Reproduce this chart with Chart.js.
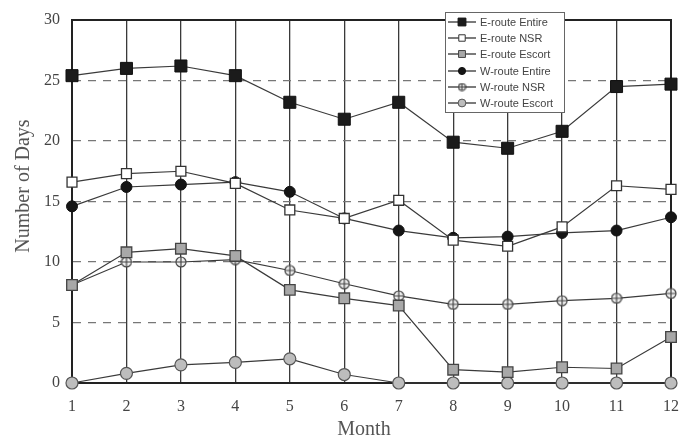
<!DOCTYPE html>
<html>
<head>
<meta charset="utf-8">
<script src="https://cdn.jsdelivr.net/npm/chart.js@4.4.0/dist/chart.umd.min.js"></script>
<style>
  html, body { margin: 0; padding: 0; background: #fff; }
</style>
</head>
<body>
<canvas id="monthChart" width="684" height="441"></canvas>
<script>
// 데이터
const months = [1, 2, 3, 4, 5, 6, 7, 8, 9, 10, 11, 12];
const eRouteEntire = [25.4, 26.0, 26.2, 25.4, 23.2, 21.8, 23.2, 19.9, 19.4, 20.8, 24.5, 24.7];
const eRouteNSR = [16.6, 17.3, 17.5, 16.5, 14.3, 13.6, 15.1, 11.8, 11.3, 12.9, 16.3, 16.0];
const eRouteEscort = [8.1, 10.8, 11.1, 10.5, 7.7, 7.0, 6.4, 1.1, 0.9, 1.3, 1.2, 3.8];
const wRouteEntire = [14.6, 16.2, 16.4, 16.6, 15.8, 13.6, 12.6, 12.0, 12.1, 12.4, 12.6, 13.7];
const wRouteNSR = [8.1, 10.0, 10.0, 10.2, 9.3, 8.2, 7.2, 6.5, 6.5, 6.8, 7.0, 7.4];
const wRouteEscort = [0, 0.8, 1.5, 1.7, 2.0, 0.7, 0, 0, 0, 0, 0, 0];
const seriesNames = ['E-route Entire', 'E-route NSR', 'E-route Escort', 'W-route Entire', 'W-route NSR', 'W-route Escort'];
const yTicks = [0, 5, 10, 15, 20, 25, 30];

// 십자 원 마커
function crossCircle(size) {
    const c = document.createElement('canvas');
    c.width = size; c.height = size;
    const g = c.getContext('2d');
    const r = size / 2 - 1;
    g.beginPath();
    g.arc(size / 2, size / 2, r, 0, Math.PI * 2);
    g.fillStyle = '#eee';
    g.fill();
    g.lineWidth = 1.2;
    g.strokeStyle = '#444';
    g.stroke();
    g.beginPath();
    g.moveTo(size / 2, 1); g.lineTo(size / 2, size - 1);
    g.moveTo(1, size / 2); g.lineTo(size - 1, size / 2);
    g.stroke();
    return c;
}
const crossBig = crossCircle(12);
const crossSmall = crossCircle(9);

function toPoints(values) {
    return values.map((v, i) => ({ x: months[i], y: v }));
}

const styles = [
    { pointStyle: 'rect', pointRadius: 8.5, pointBackgroundColor: '#1b1b1b', pointBorderColor: '#111', pointBorderWidth: 1 },
    { pointStyle: 'rect', pointRadius: 7, pointBackgroundColor: '#fff', pointBorderColor: '#333', pointBorderWidth: 1.3 },
    { pointStyle: 'rect', pointRadius: 7.5, pointBackgroundColor: '#a8a8a8', pointBorderColor: '#444', pointBorderWidth: 1.3 },
    { pointStyle: 'circle', pointRadius: 5.5, pointBackgroundColor: '#151515', pointBorderColor: '#111', pointBorderWidth: 1 },
    { pointStyle: crossBig, pointRadius: 6, pointBackgroundColor: '#eee', pointBorderColor: '#444', pointBorderWidth: 1.2 },
    { pointStyle: 'circle', pointRadius: 6, pointBackgroundColor: '#bdbdbd', pointBorderColor: '#555', pointBorderWidth: 1.2 }
];
const seriesData = [eRouteEntire, eRouteNSR, eRouteEscort, wRouteEntire, wRouteNSR, wRouteEscort];

// 프레임, 축 제목, 범례
const decorPlugin = {
    id: 'decor',
    beforeDatasetsDraw(chart) {
        const { ctx, chartArea: a } = chart;
        ctx.save();
        ctx.strokeStyle = '#222';
        ctx.lineWidth = 2;
        ctx.strokeRect(a.left, a.top, a.right - a.left, a.bottom - a.top);
        ctx.restore();
    },
    afterDraw(chart) {
        const { ctx } = chart;
        ctx.save();
        ctx.fillStyle = '#555';
        ctx.font = '20px "Liberation Serif"';
        ctx.textAlign = 'center';
        ctx.textBaseline = 'middle';
        ctx.fillText('Month', 364, 430);
        ctx.translate(24, 186);
        ctx.rotate(-Math.PI / 2);
        ctx.fillText('Number of Days', 0, 0);
        ctx.restore();

        // 범례
        const bx = 445, by = 12, bw = 119, bh = 100;
        ctx.save();
        ctx.fillStyle = '#fff';
        ctx.fillRect(bx, by, bw, bh);
        ctx.strokeStyle = '#666';
        ctx.lineWidth = 1;
        ctx.strokeRect(bx + 0.5, by + 0.5, bw, bh);
        const rows = [22, 38, 54, 71, 87, 103];
        chart.data.datasets.forEach((ds, i) => {
            const y = rows[i];
            ctx.strokeStyle = '#333';
            ctx.lineWidth = 1.3;
            ctx.beginPath();
            ctx.moveTo(bx + 3, y); ctx.lineTo(bx + 31, y);
            ctx.stroke();
            const st = styles[i];
            if (i === 4) {
                ctx.drawImage(crossSmall, bx + 17 - 4.5, y - 4.5);
            } else {
                ctx.fillStyle = st.pointBackgroundColor;
                ctx.strokeStyle = st.pointBorderColor;
                ctx.lineWidth = 1;
                Chart.helpers.drawPoint(ctx, {
                    pointStyle: st.pointStyle,
                    radius: st.pointRadius * 0.65,
                    borderWidth: 1
                }, bx + 17, y);
            }
            ctx.fillStyle = '#444';
            ctx.font = '11px "Liberation Sans"';
            ctx.textAlign = 'left';
            ctx.textBaseline = 'middle';
            ctx.fillText(ds.label, bx + 35, y + 0.5);
        });
        ctx.restore();
    }
};

const chart = new Chart(document.getElementById('monthChart').getContext('2d'), {
    type: 'line',
    data: {
        datasets: seriesNames.map((name, i) => Object.assign({
            label: name,
            data: toPoints(seriesData[i]),
            borderColor: '#3a3a3a',
            borderWidth: 1.2,
            fill: false,
            tension: 0,
            clip: false
        }, styles[i]))
    },
    options: {
        responsive: false,
        animation: false,
        devicePixelRatio: 1,
        layout: { padding: { top: 20, right: 13, left: 0, bottom: 0 } },
        plugins: {
            legend: { display: false },
            tooltip: { enabled: false }
        },
        scales: {
            x: {
                type: 'linear',
                min: 1,
                max: 12,
                afterFit: s => { s.height = 58; s.paddingLeft = 0; s.paddingRight = 0; },
                ticks: {
                    stepSize: 1,
                    padding: 14,
                    color: '#444',
                    font: { family: 'Liberation Serif', size: 16 }
                },
                grid: { color: '#3a3a3a', lineWidth: 1.3, drawTicks: false },
                border: { color: '#222', width: 2 }
            },
            y: {
                min: 0,
                max: 30,
                afterFit: s => { s.width = 72; s.paddingTop = 0; s.paddingBottom = 0; },
                afterBuildTicks: s => { s.ticks = yTicks.map(v => ({ value: v })); },
                ticks: {
                    padding: 12,
                    color: '#444',
                    font: { family: 'Liberation Serif', size: 16 }
                },
                grid: {
                    color: c => (c.tick && (c.tick.value === 0 || c.tick.value === 30)) ? 'rgba(0,0,0,0)' : '#777',
                    lineWidth: 1.2,
                    drawTicks: false
                },
                border: { color: '#222', width: 2, dash: [8, 7] }
            }
        }
    },
    plugins: [decorPlugin]
});
</script>
</body>
</html>
